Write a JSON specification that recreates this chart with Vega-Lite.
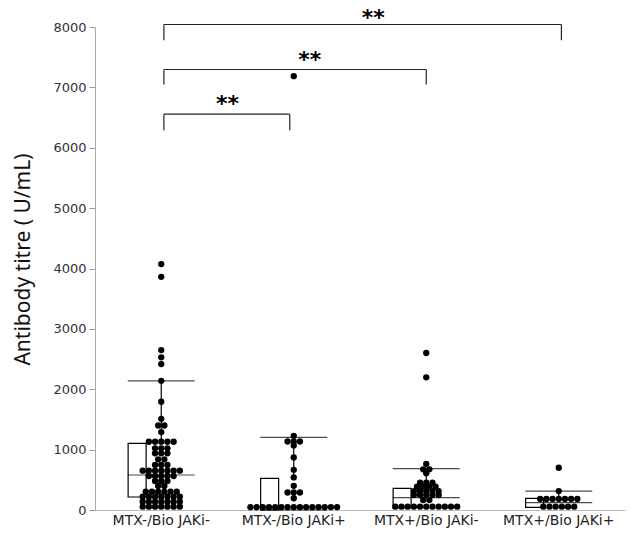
{
  "$schema": "https://vega.github.io/schema/vega-lite/v6.json",
  "width": 530,
  "height": 483,
  "autosize": "none",
  "padding": {"left": 95, "top": 27, "right": 5, "bottom": 24},
  "background": "white",
  "config": {"view": {"stroke": null}},
  "datasets": {
    "dots": [
      {"group": "MTX-/Bio JAKi-", "value": 4073},
      {"group": "MTX-/Bio JAKi-", "value": 3862},
      {"group": "MTX-/Bio JAKi-", "value": 2649},
      {"group": "MTX-/Bio JAKi-", "value": 2528},
      {"group": "MTX-/Bio JAKi-", "value": 2417},
      {"group": "MTX-/Bio JAKi-", "value": 2140},
      {"group": "MTX-/Bio JAKi-", "value": 1793},
      {"group": "MTX-/Bio JAKi-", "value": 1510},
      {"group": "MTX-/Bio JAKi-", "value": 1400},
      {"group": "MTX-/Bio JAKi-", "value": 1400},
      {"group": "MTX-/Bio JAKi-", "value": 1290},
      {"group": "MTX-/Bio JAKi-", "value": 1131},
      {"group": "MTX-/Bio JAKi-", "value": 1131},
      {"group": "MTX-/Bio JAKi-", "value": 1131},
      {"group": "MTX-/Bio JAKi-", "value": 1131},
      {"group": "MTX-/Bio JAKi-", "value": 1131},
      {"group": "MTX-/Bio JAKi-", "value": 1021},
      {"group": "MTX-/Bio JAKi-", "value": 1021},
      {"group": "MTX-/Bio JAKi-", "value": 1021},
      {"group": "MTX-/Bio JAKi-", "value": 938},
      {"group": "MTX-/Bio JAKi-", "value": 938},
      {"group": "MTX-/Bio JAKi-", "value": 938},
      {"group": "MTX-/Bio JAKi-", "value": 839},
      {"group": "MTX-/Bio JAKi-", "value": 839},
      {"group": "MTX-/Bio JAKi-", "value": 745},
      {"group": "MTX-/Bio JAKi-", "value": 745},
      {"group": "MTX-/Bio JAKi-", "value": 745},
      {"group": "MTX-/Bio JAKi-", "value": 651},
      {"group": "MTX-/Bio JAKi-", "value": 651},
      {"group": "MTX-/Bio JAKi-", "value": 651},
      {"group": "MTX-/Bio JAKi-", "value": 651},
      {"group": "MTX-/Bio JAKi-", "value": 651},
      {"group": "MTX-/Bio JAKi-", "value": 651},
      {"group": "MTX-/Bio JAKi-", "value": 651},
      {"group": "MTX-/Bio JAKi-", "value": 563},
      {"group": "MTX-/Bio JAKi-", "value": 563},
      {"group": "MTX-/Bio JAKi-", "value": 563},
      {"group": "MTX-/Bio JAKi-", "value": 563},
      {"group": "MTX-/Bio JAKi-", "value": 563},
      {"group": "MTX-/Bio JAKi-", "value": 480},
      {"group": "MTX-/Bio JAKi-", "value": 480},
      {"group": "MTX-/Bio JAKi-", "value": 480},
      {"group": "MTX-/Bio JAKi-", "value": 397},
      {"group": "MTX-/Bio JAKi-", "value": 397},
      {"group": "MTX-/Bio JAKi-", "value": 303},
      {"group": "MTX-/Bio JAKi-", "value": 303},
      {"group": "MTX-/Bio JAKi-", "value": 303},
      {"group": "MTX-/Bio JAKi-", "value": 303},
      {"group": "MTX-/Bio JAKi-", "value": 303},
      {"group": "MTX-/Bio JAKi-", "value": 303},
      {"group": "MTX-/Bio JAKi-", "value": 220},
      {"group": "MTX-/Bio JAKi-", "value": 220},
      {"group": "MTX-/Bio JAKi-", "value": 220},
      {"group": "MTX-/Bio JAKi-", "value": 220},
      {"group": "MTX-/Bio JAKi-", "value": 220},
      {"group": "MTX-/Bio JAKi-", "value": 220},
      {"group": "MTX-/Bio JAKi-", "value": 220},
      {"group": "MTX-/Bio JAKi-", "value": 137},
      {"group": "MTX-/Bio JAKi-", "value": 137},
      {"group": "MTX-/Bio JAKi-", "value": 137},
      {"group": "MTX-/Bio JAKi-", "value": 137},
      {"group": "MTX-/Bio JAKi-", "value": 137},
      {"group": "MTX-/Bio JAKi-", "value": 137},
      {"group": "MTX-/Bio JAKi-", "value": 137},
      {"group": "MTX-/Bio JAKi-", "value": 55},
      {"group": "MTX-/Bio JAKi-", "value": 55},
      {"group": "MTX-/Bio JAKi-", "value": 55},
      {"group": "MTX-/Bio JAKi-", "value": 55},
      {"group": "MTX-/Bio JAKi-", "value": 55},
      {"group": "MTX-/Bio JAKi-", "value": 55},
      {"group": "MTX-/Bio JAKi-", "value": 55},
      {"group": "MTX-/Bio JAKi+", "value": 7185},
      {"group": "MTX-/Bio JAKi+", "value": 1228},
      {"group": "MTX-/Bio JAKi+", "value": 1135},
      {"group": "MTX-/Bio JAKi+", "value": 1135},
      {"group": "MTX-/Bio JAKi+", "value": 1135},
      {"group": "MTX-/Bio JAKi+", "value": 1070},
      {"group": "MTX-/Bio JAKi+", "value": 870},
      {"group": "MTX-/Bio JAKi+", "value": 665},
      {"group": "MTX-/Bio JAKi+", "value": 540},
      {"group": "MTX-/Bio JAKi+", "value": 400},
      {"group": "MTX-/Bio JAKi+", "value": 290},
      {"group": "MTX-/Bio JAKi+", "value": 290},
      {"group": "MTX-/Bio JAKi+", "value": 290},
      {"group": "MTX-/Bio JAKi+", "value": 195},
      {"group": "MTX-/Bio JAKi+", "value": 45},
      {"group": "MTX-/Bio JAKi+", "value": 45},
      {"group": "MTX-/Bio JAKi+", "value": 45},
      {"group": "MTX-/Bio JAKi+", "value": 45},
      {"group": "MTX-/Bio JAKi+", "value": 45},
      {"group": "MTX-/Bio JAKi+", "value": 45},
      {"group": "MTX-/Bio JAKi+", "value": 45},
      {"group": "MTX-/Bio JAKi+", "value": 45},
      {"group": "MTX-/Bio JAKi+", "value": 45},
      {"group": "MTX-/Bio JAKi+", "value": 45},
      {"group": "MTX-/Bio JAKi+", "value": 45},
      {"group": "MTX-/Bio JAKi+", "value": 45},
      {"group": "MTX-/Bio JAKi+", "value": 45},
      {"group": "MTX-/Bio JAKi+", "value": 45},
      {"group": "MTX-/Bio JAKi+", "value": 45},
      {"group": "MTX+/Bio JAKi-", "value": 2600},
      {"group": "MTX+/Bio JAKi-", "value": 2197},
      {"group": "MTX+/Bio JAKi-", "value": 762},
      {"group": "MTX+/Bio JAKi-", "value": 673},
      {"group": "MTX+/Bio JAKi-", "value": 673},
      {"group": "MTX+/Bio JAKi-", "value": 607},
      {"group": "MTX+/Bio JAKi-", "value": 452},
      {"group": "MTX+/Bio JAKi-", "value": 452},
      {"group": "MTX+/Bio JAKi-", "value": 452},
      {"group": "MTX+/Bio JAKi-", "value": 386},
      {"group": "MTX+/Bio JAKi-", "value": 386},
      {"group": "MTX+/Bio JAKi-", "value": 386},
      {"group": "MTX+/Bio JAKi-", "value": 386},
      {"group": "MTX+/Bio JAKi-", "value": 314},
      {"group": "MTX+/Bio JAKi-", "value": 314},
      {"group": "MTX+/Bio JAKi-", "value": 314},
      {"group": "MTX+/Bio JAKi-", "value": 314},
      {"group": "MTX+/Bio JAKi-", "value": 314},
      {"group": "MTX+/Bio JAKi-", "value": 248},
      {"group": "MTX+/Bio JAKi-", "value": 248},
      {"group": "MTX+/Bio JAKi-", "value": 248},
      {"group": "MTX+/Bio JAKi-", "value": 248},
      {"group": "MTX+/Bio JAKi-", "value": 248},
      {"group": "MTX+/Bio JAKi-", "value": 165},
      {"group": "MTX+/Bio JAKi-", "value": 165},
      {"group": "MTX+/Bio JAKi-", "value": 55},
      {"group": "MTX+/Bio JAKi-", "value": 55},
      {"group": "MTX+/Bio JAKi-", "value": 55},
      {"group": "MTX+/Bio JAKi-", "value": 55},
      {"group": "MTX+/Bio JAKi-", "value": 55},
      {"group": "MTX+/Bio JAKi-", "value": 55},
      {"group": "MTX+/Bio JAKi-", "value": 55},
      {"group": "MTX+/Bio JAKi-", "value": 55},
      {"group": "MTX+/Bio JAKi-", "value": 55},
      {"group": "MTX+/Bio JAKi-", "value": 55},
      {"group": "MTX+/Bio JAKi-", "value": 55},
      {"group": "MTX+/Bio JAKi+", "value": 700},
      {"group": "MTX+/Bio JAKi+", "value": 314},
      {"group": "MTX+/Bio JAKi+", "value": 182},
      {"group": "MTX+/Bio JAKi+", "value": 182},
      {"group": "MTX+/Bio JAKi+", "value": 182},
      {"group": "MTX+/Bio JAKi+", "value": 182},
      {"group": "MTX+/Bio JAKi+", "value": 182},
      {"group": "MTX+/Bio JAKi+", "value": 182},
      {"group": "MTX+/Bio JAKi+", "value": 182},
      {"group": "MTX+/Bio JAKi+", "value": 55},
      {"group": "MTX+/Bio JAKi+", "value": 55},
      {"group": "MTX+/Bio JAKi+", "value": 55},
      {"group": "MTX+/Bio JAKi+", "value": 55},
      {"group": "MTX+/Bio JAKi+", "value": 55},
      {"group": "MTX+/Bio JAKi+", "value": 55}
    ],
    "boxes": [
      {"group": "MTX-/Bio JAKi-", "q1": 215, "median": 580, "q3": 1105, "upper": 2140},
      {"group": "MTX-/Bio JAKi+", "q1": 0, "median": 0, "q3": 524, "upper": 1203},
      {"group": "MTX+/Bio JAKi-", "q1": 40, "median": 204, "q3": 359, "upper": 684},
      {"group": "MTX+/Bio JAKi+", "q1": 44, "median": 121, "q3": 193, "upper": 314}
    ],
    "brackets": [
      {"from": 0.52, "to": 1.47, "top": 6556, "foot": 6291},
      {"from": 0.52, "to": 2.5, "top": 7296, "foot": 7048},
      {"from": 0.52, "to": 3.52, "top": 8041, "foot": 7781}
    ],
    "stars": [
      {"pos": 1.0, "level": 6788, "label": "**"},
      {"pos": 1.62, "level": 7517, "label": "**"},
      {"pos": 2.1, "level": 8222, "label": "**"}
    ]
  },
  "layer": [
    {
      "encoding": {
        "x": {
          "field": "group",
          "type": "nominal",
          "sort": ["MTX-/Bio JAKi-", "MTX-/Bio JAKi+", "MTX+/Bio JAKi-", "MTX+/Bio JAKi+"],
          "scale": {"paddingInner": 0, "paddingOuter": 0},
          "axis": {
            "title": null,
            "labelAngle": 0,
            "ticks": false,
            "domainColor": "#bbbbbb",
            "labelFont": "DejaVu Sans",
            "labelFontSize": 14,
            "labelColor": "#222222",
            "labelPadding": 3
          }
        }
      },
      "layer": [
        {
          "data": {"name": "boxes"},
          "mark": {"type": "rule", "color": "black", "strokeWidth": 1.2},
          "encoding": {
            "y": {"field": "q3", "type": "quantitative"},
            "y2": {"field": "upper"}
          }
        },
        {
          "data": {"name": "boxes"},
          "mark": {"type": "tick", "color": "black", "size": 67, "thickness": 1.2},
          "encoding": {
            "y": {"field": "upper", "type": "quantitative"}
          }
        },
        {
          "data": {"name": "boxes"},
          "mark": {"type": "bar", "width": {"band": 0.5}, "fill": "white", "stroke": "black", "strokeWidth": 1.2},
          "encoding": {
            "y": {"field": "q1", "type": "quantitative"},
            "y2": {"field": "q3"}
          }
        },
        {
          "data": {"name": "boxes"},
          "mark": {"type": "tick", "color": "black", "size": 67, "thickness": 1.2},
          "encoding": {
            "y": {"field": "median", "type": "quantitative"}
          }
        },
        {
          "data": {"name": "dots"},
          "transform": [
            {"joinaggregate": [{"op": "count", "as": "n"}], "groupby": ["group", "value"]},
            {"window": [{"op": "row_number", "as": "r"}], "groupby": ["group", "value"]},
            {"calculate": "datum.r - (datum.n + 1) / 2", "as": "slot"}
          ],
          "mark": {"type": "circle", "color": "black", "opacity": 1, "size": 40},
          "encoding": {
            "y": {
              "field": "value",
              "type": "quantitative",
              "scale": {"domain": [0, 8000], "nice": false},
              "axis": {
                "values": [0, 1000, 2000, 3000, 4000, 5000, 6000, 7000, 8000],
                "format": "d",
                "grid": false,
                "title": "Antibody titre ( U/mL)",
                "titleFont": "Noto Sans",
                "titleFontSize": 21,
                "titleFontWeight": "normal",
                "titleColor": "#111111",
                "titleX": -72,
                "titleY": 232,
                "titleAngle": 270,
                "titleAlign": "center",
                "titleBaseline": "middle",
                "labelFont": "DejaVu Sans",
                "labelFontSize": 13,
                "labelColor": "#333333",
                "labelPadding": 3,
                "tickSize": 6,
                "tickColor": "#999999",
                "domainColor": "#aaaaaa"
              }
            },
            "xOffset": {
              "field": "slot",
              "type": "quantitative",
              "scale": {"domain": [-10.7, 10.7]}
            }
          }
        }
      ]
    },
    {
      "layer": [
        {
          "data": {"name": "brackets"},
          "mark": {"type": "rule", "color": "#222222", "strokeWidth": 1.2},
          "encoding": {
            "x": {"field": "from", "type": "quantitative", "scale": {"domain": [0, 4], "nice": false}, "axis": null},
            "x2": {"field": "to"},
            "y": {"field": "top", "type": "quantitative"}
          }
        },
        {
          "data": {"name": "brackets"},
          "mark": {"type": "rule", "color": "#222222", "strokeWidth": 1.2},
          "encoding": {
            "x": {"field": "from", "type": "quantitative", "scale": {"domain": [0, 4], "nice": false}, "axis": null},
            "y": {"field": "top", "type": "quantitative"},
            "y2": {"field": "foot"}
          }
        },
        {
          "data": {"name": "brackets"},
          "mark": {"type": "rule", "color": "#222222", "strokeWidth": 1.2},
          "encoding": {
            "x": {"field": "to", "type": "quantitative", "scale": {"domain": [0, 4], "nice": false}, "axis": null},
            "y": {"field": "top", "type": "quantitative"},
            "y2": {"field": "foot"}
          }
        },
        {
          "data": {"name": "stars"},
          "mark": {"type": "text", "font": "DejaVu Sans", "fontSize": 22, "fontWeight": "bold", "color": "black", "baseline": "middle", "align": "center", "dy": 4},
          "encoding": {
            "x": {"field": "pos", "type": "quantitative", "scale": {"domain": [0, 4], "nice": false}, "axis": null},
            "y": {"field": "level", "type": "quantitative"},
            "text": {"field": "label"}
          }
        }
      ]
    }
  ],
  "resolve": {"scale": {"x": "independent"}}
}
